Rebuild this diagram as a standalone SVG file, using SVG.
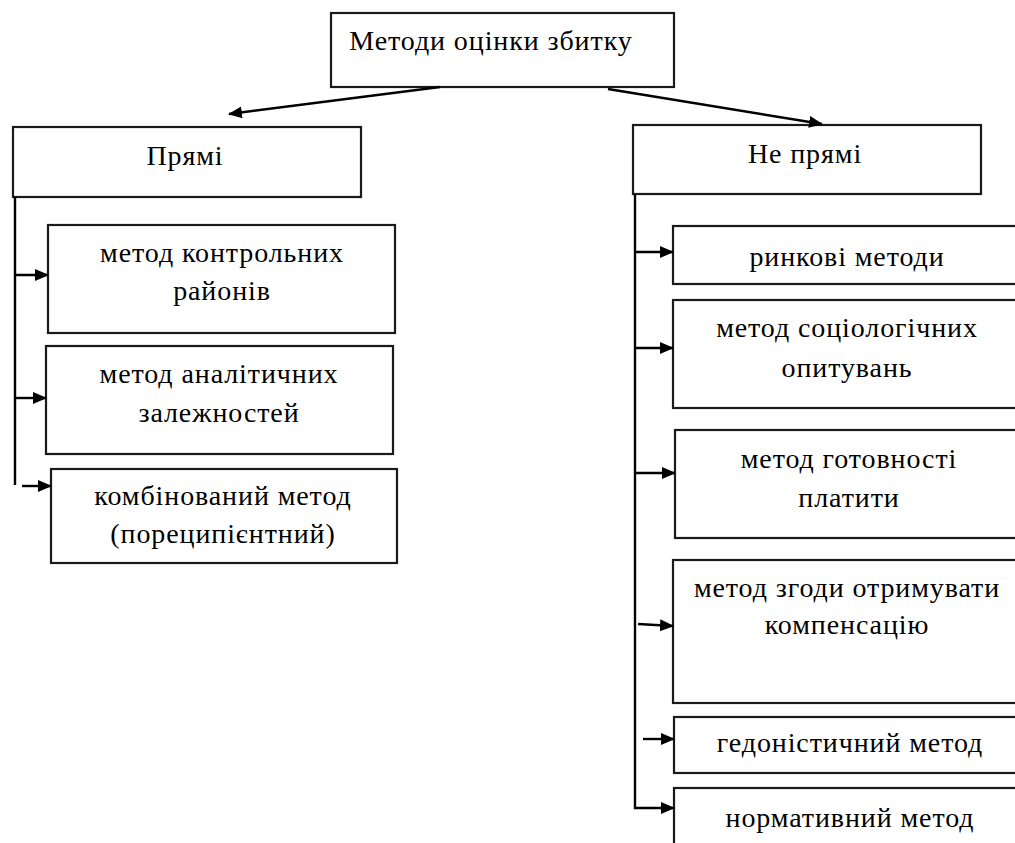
<svg xmlns="http://www.w3.org/2000/svg" width="1015" height="843" viewBox="0 0 1015 843">
<defs>
<marker id="ah" markerWidth="14" markerHeight="12" refX="13" refY="6" orient="auto" markerUnits="userSpaceOnUse">
<path d="M0,0 L14,6 L0,12 Z" fill="#000"/>
</marker>
</defs>
<style>
.box{fill:#fff;stroke:#1a1a1a;stroke-width:2.2}
.t{font-family:"Liberation Serif","Times New Roman","DejaVu Serif",serif;font-size:28px;letter-spacing:0.9px;fill:#000;text-anchor:middle}
.c{fill:none;stroke:#000;stroke-width:2.4}
</style>
<rect width="1015" height="843" fill="#fff"/>
<g id="root"><rect class="box" x="331" y="13" width="343" height="74"/><text class="t" x="491" y="50">Методи оцінки збитку</text></g>
<g id="direct"><rect class="box" x="13" y="127" width="348" height="70"/><text class="t" x="185" y="165">Прямі</text></g>
<g id="indirect"><rect class="box" x="633" y="125" width="348" height="69"/><text class="t" x="805" y="163">Не прямі</text></g>
<g id="d1"><rect class="box" x="48" y="225" width="347" height="108"/><text class="t" x="222" y="262">метод контрольних</text><text class="t" x="222" y="300">районів</text></g>
<g id="d2"><rect class="box" x="46" y="346" width="347" height="108"/><text class="t" x="219" y="383">метод аналітичних</text><text class="t" x="219" y="422">залежностей</text></g>
<g id="d3"><rect class="box" x="51" y="469" width="346" height="94"/><text class="t" x="223" y="505">комбінований метод</text><text class="t" x="223" y="543">(пореципієнтний)</text></g>
<g id="i1"><rect class="box" x="673" y="226" width="350" height="58"/><text class="t" x="847" y="266">ринкові методи</text></g>
<g id="i2"><rect class="box" x="673" y="300" width="350" height="108"/><text class="t" x="847" y="337">метод соціологічних</text><text class="t" x="847" y="377">опитувань</text></g>
<g id="i3"><rect class="box" x="675" y="430" width="350" height="108"/><text class="t" x="849" y="468">метод готовності</text><text class="t" x="849" y="507">платити</text></g>
<g id="i4"><rect class="box" x="673" y="560" width="350" height="143"/><text class="t" x="847" y="597">метод згоди отримувати</text><text class="t" x="847" y="634">компенсацію</text></g>
<g id="i5"><rect class="box" x="674" y="717" width="350" height="56"/><text class="t" x="850" y="752">гедоністичний метод</text></g>
<g id="i6"><rect class="box" x="674" y="788" width="350" height="70"/><text class="t" x="850" y="827">нормативний метод</text></g>
<g id="connectors">
<line class="c" x1="440" y1="87" x2="229" y2="114" marker-end="url(#ah)"/>
<line class="c" x1="608" y1="89" x2="822" y2="124" marker-end="url(#ah)"/>
<line class="c" x1="15" y1="197" x2="15" y2="485"/>
<line class="c" x1="15" y1="275" x2="48" y2="275" marker-end="url(#ah)"/>
<line class="c" x1="15" y1="398" x2="46" y2="398" marker-end="url(#ah)"/>
<line class="c" x1="22" y1="486" x2="51" y2="486" marker-end="url(#ah)"/>
<polyline class="c" points="635,194 635,808 674,808" marker-end="url(#ah)"/>
<line class="c" x1="635" y1="252" x2="673" y2="252" marker-end="url(#ah)"/>
<line class="c" x1="635" y1="348" x2="673" y2="348" marker-end="url(#ah)"/>
<line class="c" x1="635" y1="473" x2="675" y2="473" marker-end="url(#ah)"/>
<line class="c" x1="638" y1="624" x2="673" y2="626" marker-end="url(#ah)"/>
<line class="c" x1="643" y1="739" x2="674" y2="739" stroke-width="1.2" marker-end="url(#ah)"/>
</g>
</svg>
